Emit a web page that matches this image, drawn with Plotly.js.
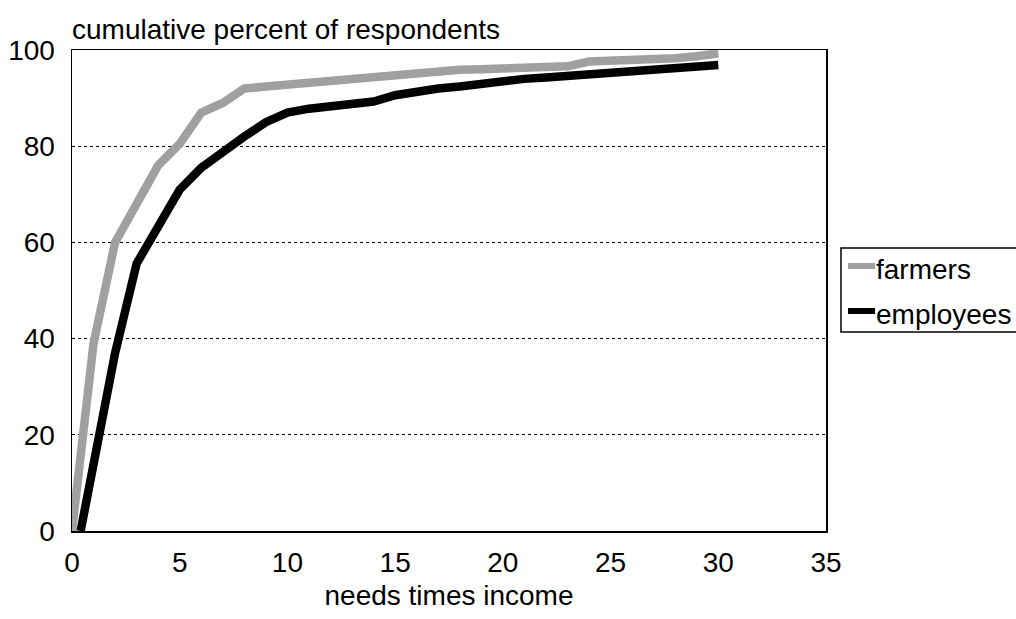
<!DOCTYPE html>
<html>
<head>
<meta charset="utf-8">
<script src="https://cdn.plot.ly/plotly-3.0.1.min.js"></script>
<style>html,body{margin:0;padding:0;background:#fff;}#chart{width:1016px;height:619px;}</style>
</head>
<body>
<div id="chart"></div>
<script>
// needs times income (x) and cumulative percent of respondents (y)
const farmersX = [0,1,2,3,4,5,6,7,8,9,10,11,12,13,14,15,16,17,18,19,20,21,22,23,24,25,26,27,28,29,30];
const farmersY = [0,39,60,68,76,80.5,87,89,92,92.4,92.8,93.2,93.6,94,94.4,94.7,95,95.8,95.9,96,96.1,96.2,96.4,96.6,97.6,97.7,97.8,98,98.3,98.7,99.3];
const employeesX = [0.4,1,2,3,4,5,6,7,8,9,10,11,12,13,14,15,16,17,18,19,20,21,22,23,24,25,26,27,28,29,30];
const employeesY = [0,14,37,55.6,63.5,71,75.5,79,82,85,87,87.8,88.4,88.8,89.3,90.6,91.4,92,92.4,93,93.4,94,94.3,94.6,95.2,95.4,95.6,95.8,96.2,96.5,96.9];
const seriesNames = ['farmers', 'employees'];
const seriesColors = ['#a0a0a0', '#000000'];
const xTicks = [0,5,10,15,20,25,30,35];
const yTicks = [0,20,40,60,80,100];

const FONT = 'Liberation Sans, Arial, sans-serif';
const FS = 28;
const traces = [
  {x: farmersX, y: farmersY, name: seriesNames[0], mode: 'lines',
   line: {color: seriesColors[0], width: 8.5}},
  {x: employeesX, y: employeesY, name: seriesNames[1], mode: 'lines',
   line: {color: seriesColors[1], width: 8.5}}
];

// legend drawn by hand (reference legend is clipped at the right page edge)
const px2x = p => (p - 72) / 754;
const px2y = p => (531 - p) / 481;
const shapes = [
  {type: 'rect', xref: 'paper', yref: 'paper', x0: px2x(841), x1: px2x(1040), y0: px2y(332), y1: px2y(248),
   line: {color: '#000', width: 1.5}, fillcolor: '#fff', layer: 'above'}
];
const annotations = [{text: 'cumulative percent of respondents', xref: 'paper', yref: 'paper',
                 x: 0, y: 1, xanchor: 'left', yanchor: 'bottom', yshift: 3, xshift: -2, showarrow: false,
                 font: {family: FONT, size: FS, color: '#000'}}];
const legendRows = [266, 311];
seriesNames.forEach((n, i) => {
  shapes.push({type: 'line', xref: 'paper', yref: 'paper', x0: px2x(848), x1: px2x(875),
               y0: px2y(legendRows[i]), y1: px2y(legendRows[i]),
               line: {color: seriesColors[i], width: 6}, layer: 'above'});
  annotations.push({text: n, xref: 'paper', yref: 'paper', x: px2x(874), y: px2y(legendRows[i] + 3),
                    xanchor: 'left', yanchor: 'middle', showarrow: false,
                    font: {family: FONT, size: FS, color: '#000'}});
});

const layout = {
  width: 1016, height: 619,
  margin: {l: 72, r: 190, t: 50, b: 88},
  paper_bgcolor: '#fff', plot_bgcolor: '#fff',
  font: {family: FONT, size: FS, color: '#000'},
  showlegend: false,
  xaxis: {range: [0, 35], tickvals: xTicks, ticktext: xTicks.map(String),
          showgrid: false, zeroline: false, showline: true, linecolor: '#000', linewidth: 1.5,
          mirror: true, ticks: '', ticklabelstandoff: 6,
          title: {text: 'needs times income', font: {family: FONT, size: FS}, standoff: 8}},
  yaxis: {range: [0, 100], tickvals: yTicks, ticktext: yTicks.map(String),
          showgrid: true, gridcolor: '#000', gridwidth: 1, griddash: 'dot',
          zeroline: false, showline: true, linecolor: '#000', linewidth: 1.5,
          mirror: true, ticks: '', ticklabelstandoff: 10},
  shapes: shapes,
  annotations: annotations
};
Plotly.newPlot('chart', traces, layout, {displayModeBar: false, staticPlot: true});
</script>
</body>
</html>
